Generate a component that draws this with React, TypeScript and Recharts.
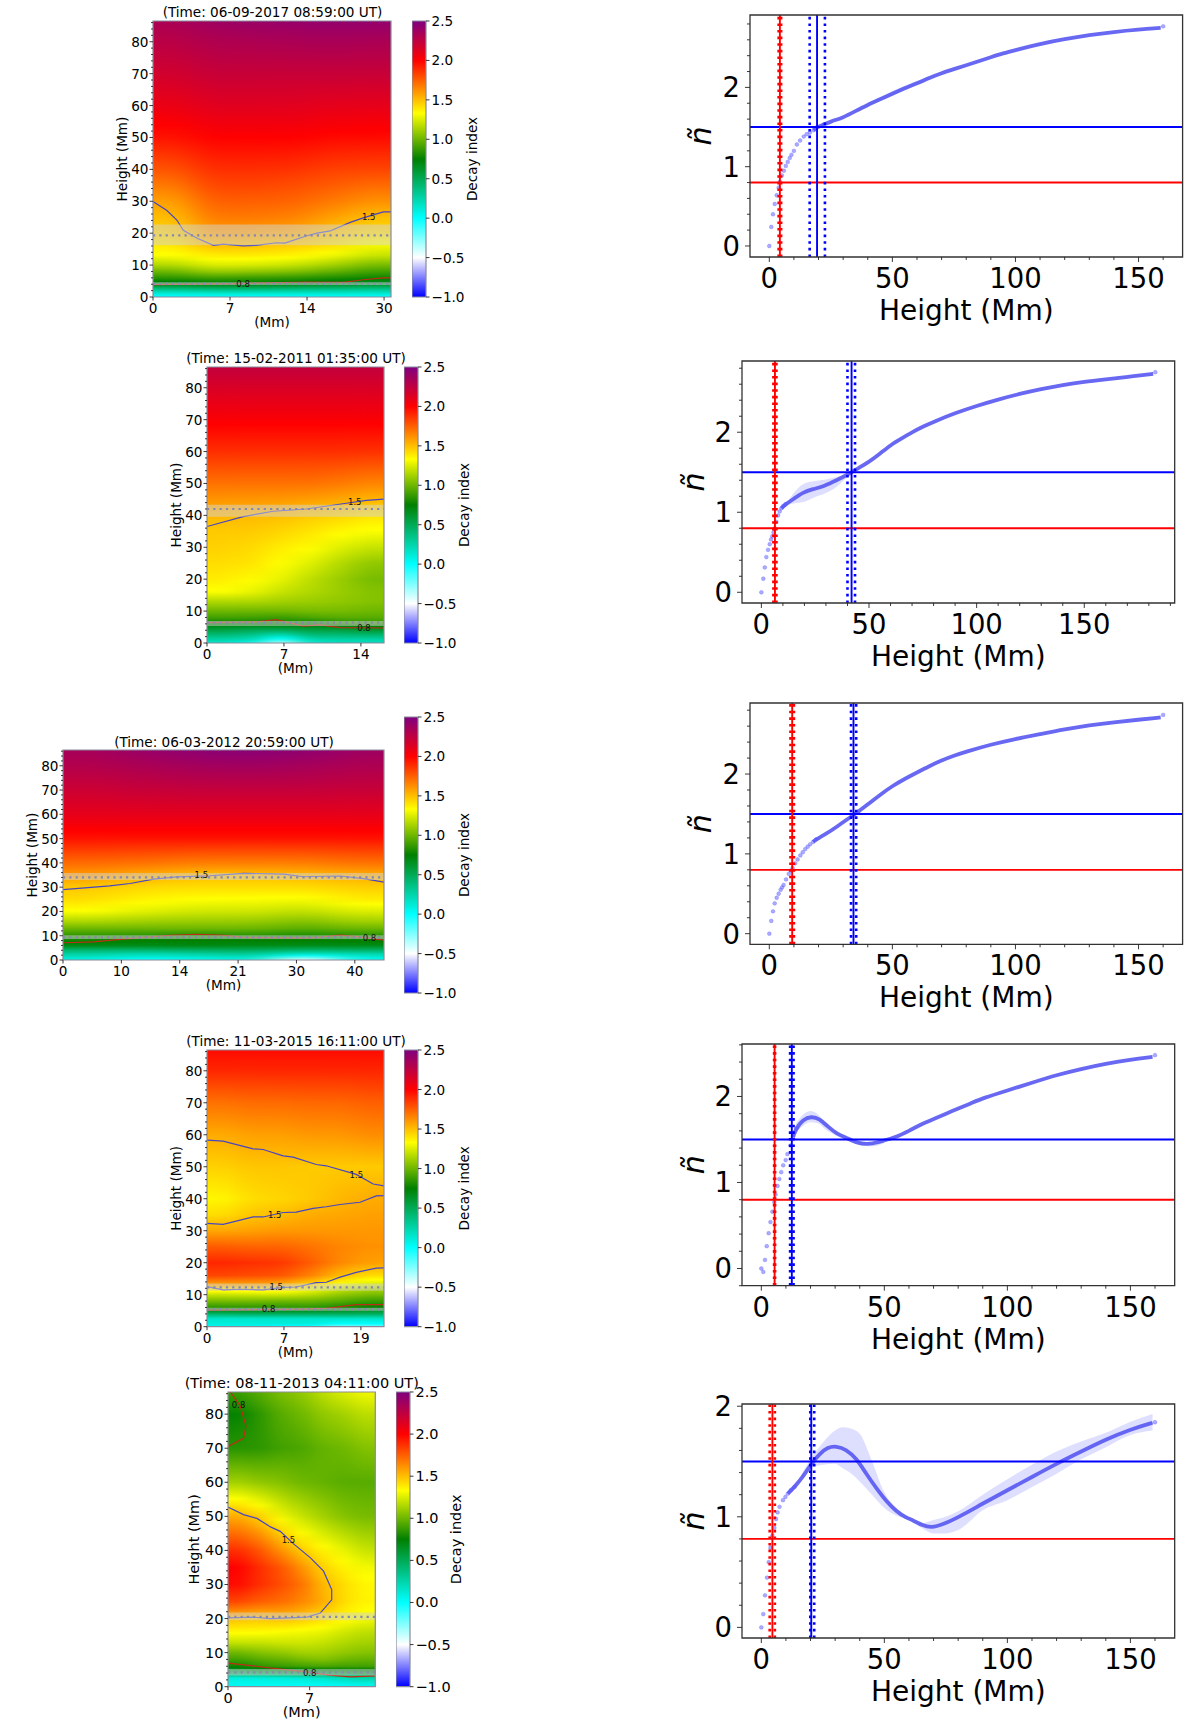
import React from 'react';
import {
  Area,
  Bar,
  ComposedChart,
  Label,
  Line,
  ReferenceArea,
  ReferenceDot,
  ReferenceLine,
  XAxis,
  YAxis,
} from 'recharts';

const FONT = '"DejaVu Sans", sans-serif';

// heights (Mm) at which the decay index map columns were read
const decayHeights = [0, 1, 2.5, 4, 6, 8, 10, 13, 16, 20, 25, 30, 35, 40, 50, 60, 70, 80, 86.5];

const map1Columns = [
  [0, 0.1, 0.36, 0.68, 0.85, 1.0, 1.15, 1.32, 1.38, 1.44, 1.5, 1.58, 1.68, 1.78, 1.95, 2.08, 2.18, 2.27, 2.33],
  [0, 0.12, 0.4, 0.72, 0.9, 1.1, 1.25, 1.38, 1.5, 1.6, 1.68, 1.75, 1.82, 1.88, 2.0, 2.12, 2.22, 2.31, 2.38],
  [0, 0.12, 0.4, 0.72, 0.88, 1.08, 1.24, 1.38, 1.48, 1.58, 1.68, 1.75, 1.82, 1.88, 2.0, 2.12, 2.22, 2.32, 2.4],
  [0, 0.12, 0.38, 0.7, 0.86, 1.05, 1.2, 1.36, 1.46, 1.56, 1.66, 1.74, 1.8, 1.87, 2.0, 2.12, 2.22, 2.33, 2.41],
  [0, 0.12, 0.36, 0.66, 0.82, 0.98, 1.12, 1.3, 1.4, 1.48, 1.58, 1.68, 1.76, 1.83, 1.98, 2.1, 2.22, 2.34, 2.42],
  [0, 0.12, 0.34, 0.62, 0.78, 0.9, 1.02, 1.2, 1.3, 1.42, 1.5, 1.62, 1.72, 1.82, 1.97, 2.1, 2.22, 2.33, 2.42],
];
const map2Columns = [
  [0.15, 0.25, 0.4, 0.55, 0.75, 0.9, 1.0, 1.15, 1.32, 1.38, 1.42, 1.45, 1.47, 1.52, 1.7, 1.88, 2.02, 2.15, 2.24],
  [0.05, 0.2, 0.35, 0.5, 0.75, 0.9, 1.0, 1.15, 1.28, 1.34, 1.4, 1.43, 1.47, 1.51, 1.7, 1.88, 2.02, 2.15, 2.24],
  [-0.4, -0.1, 0.2, 0.48, 0.78, 0.88, 1.0, 1.12, 1.2, 1.28, 1.33, 1.38, 1.44, 1.5, 1.7, 1.88, 2.02, 2.15, 2.24],
  [0.15, 0.22, 0.4, 0.55, 0.75, 0.92, 1.02, 1.1, 1.15, 1.18, 1.26, 1.34, 1.4, 1.47, 1.7, 1.88, 2.02, 2.15, 2.24],
  [0.2, 0.25, 0.4, 0.55, 0.82, 0.95, 1.02, 1.08, 1.1, 1.1, 1.16, 1.26, 1.35, 1.44, 1.68, 1.88, 2.02, 2.15, 2.24],
  [0.2, 0.25, 0.42, 0.6, 0.85, 0.95, 1.0, 1.05, 1.05, 1.02, 1.08, 1.2, 1.32, 1.4, 1.65, 1.87, 2.02, 2.15, 2.24],
];
const map3Columns = [
  [0.1, 0.15, 0.28, 0.42, 0.68, 0.78, 0.85, 1.0, 1.15, 1.32, 1.42, 1.48, 1.6, 1.72, 1.95, 2.1, 2.2, 2.3, 2.35],
  [-0.05, 0.08, 0.22, 0.42, 0.68, 0.75, 0.84, 1.0, 1.12, 1.26, 1.36, 1.43, 1.55, 1.7, 1.95, 2.1, 2.22, 2.33, 2.4],
  [0.05, 0.12, 0.28, 0.46, 0.7, 0.75, 0.82, 1.0, 1.1, 1.22, 1.33, 1.42, 1.5, 1.67, 1.95, 2.1, 2.23, 2.36, 2.45],
  [0.1, 0.18, 0.32, 0.48, 0.68, 0.75, 0.84, 1.0, 1.1, 1.22, 1.32, 1.42, 1.5, 1.67, 1.95, 2.1, 2.23, 2.37, 2.46],
  [-0.55, -0.25, 0.15, 0.42, 0.68, 0.75, 0.8, 0.95, 1.05, 1.18, 1.31, 1.42, 1.52, 1.67, 1.95, 2.1, 2.23, 2.35, 2.44],
  [0.05, 0.1, 0.24, 0.44, 0.68, 0.76, 0.84, 1.0, 1.12, 1.25, 1.38, 1.46, 1.55, 1.7, 1.95, 2.1, 2.22, 2.32, 2.38],
];
const map4Columns = [
  [0.05, 0.1, 0.15, 0.45, 0.85, 1.02, 1.2, 1.56, 1.82, 1.9, 1.76, 1.56, 1.42, 1.35, 1.45, 1.55, 1.7, 1.9, 1.97],
  [0.05, 0.1, 0.15, 0.48, 0.85, 1.02, 1.22, 1.56, 1.8, 1.88, 1.74, 1.58, 1.48, 1.42, 1.48, 1.58, 1.72, 1.9, 1.97],
  [0, 0.1, 0.15, 0.48, 0.85, 1.0, 1.22, 1.54, 1.78, 1.86, 1.74, 1.6, 1.5, 1.44, 1.48, 1.58, 1.72, 1.9, 1.97],
  [0, 0.1, 0.15, 0.48, 0.85, 1.0, 1.18, 1.42, 1.66, 1.76, 1.7, 1.6, 1.55, 1.47, 1.47, 1.6, 1.73, 1.9, 1.97],
  [-0.25, 0, 0.15, 0.48, 0.8, 0.95, 1.08, 1.3, 1.5, 1.64, 1.65, 1.6, 1.56, 1.52, 1.47, 1.6, 1.73, 1.9, 1.97],
  [-0.2, 0, 0.15, 0.48, 0.75, 0.88, 1.02, 1.22, 1.42, 1.58, 1.62, 1.6, 1.58, 1.55, 1.47, 1.63, 1.75, 1.9, 1.97],
];
const map5Columns = [
  [0.05, 0.05, 0.1, 0.48, 0.78, 0.9, 1.0, 1.2, 1.34, 1.5, 1.82, 1.97, 2.0, 1.88, 1.55, 1.12, 0.84, 0.76, 0.88],
  [0.02, 0.05, 0.1, 0.5, 0.85, 0.95, 1.05, 1.2, 1.34, 1.48, 1.75, 1.88, 1.88, 1.78, 1.45, 1.08, 0.85, 0.85, 0.95],
  [0.02, 0.05, 0.1, 0.52, 0.88, 0.98, 1.08, 1.22, 1.32, 1.5, 1.72, 1.8, 1.78, 1.62, 1.3, 1.05, 0.9, 0.95, 1.03],
  [0.02, 0.05, 0.12, 0.55, 0.9, 1.02, 1.12, 1.22, 1.3, 1.48, 1.65, 1.7, 1.62, 1.47, 1.2, 1.0, 0.92, 1.0, 1.08],
  [0.02, 0.06, 0.15, 0.58, 0.92, 1.05, 1.12, 1.2, 1.28, 1.42, 1.55, 1.52, 1.45, 1.36, 1.12, 0.98, 0.98, 1.08, 1.18],
  [0.02, 0.08, 0.2, 0.6, 0.9, 1.0, 1.08, 1.15, 1.22, 1.35, 1.42, 1.42, 1.36, 1.28, 1.05, 0.95, 1.0, 1.12, 1.25],
  [0.05, 0.1, 0.25, 0.62, 0.9, 0.98, 1.05, 1.12, 1.18, 1.3, 1.36, 1.35, 1.3, 1.2, 1.02, 0.95, 1.05, 1.18, 1.3],
];

// contour lines, x in units of the evenly spaced x ticks
const map1Contour15X = [0, 0.177, 0.307, 0.394, 0.567, 0.784, 0.913, 1.17, 1.34, 1.6, 1.71, 2.0, 2.13, 2.3, 2.56, 2.73, 2.99, 3.09];
const map1Contour15H = [29.9, 27.2, 24.2, 20.9, 18.5, 16.2, 16.6, 16, 16.2, 17, 16.9, 19.2, 20, 20.7, 23.4, 24.8, 26.7, 26.7];
const map1Contour08X = [0, 1.04, 2.0, 2.47, 2.73, 2.99, 3.09];
const map1Contour08H = [3.9, 4.2, 4.7, 4.6, 5.4, 6, 6];

const map2Contour15X = [0, 0.47, 0.86, 1.29, 1.81, 2.07, 2.3];
const map2Contour15H = [36.5, 39.6, 41.3, 42, 43.8, 44.7, 45.1];
const map2Contour08X = [0, 0.645, 0.9, 1.25, 1.47, 1.73, 2.3];
const map2Contour08H = [6.4, 6.6, 7.3, 5.3, 5.7, 4.8, 4.7];

const map3Contour15X = [0, 0.8, 1.15, 1.55, 1.95, 2.52, 3.09, 3.78, 4.12, 4.75, 5.15, 5.5];
const map3Contour15H = [29, 30.5, 31.5, 33.3, 34.2, 34.7, 35.7, 35.4, 34.3, 34.6, 33.5, 32.1];
const map3Contour08X = [0, 0.52, 0.98, 1.83, 2.29, 2.75, 3.09, 4.25, 4.75, 5.03, 5.5];
const map3Contour08H = [7.1, 7.5, 8.5, 10.2, 10.6, 10.2, 9.3, 9, 10.3, 9.6, 8.2];

const map4ContourTopX = [0, 0.21, 0.6, 0.73, 0.99, 1.12, 1.42, 1.55, 1.94, 2.16, 2.3];
const map4ContourTopH = [58.3, 58, 55.6, 55.4, 53.4, 53, 50.7, 50.3, 47.6, 44.6, 44];
const map4ContourMidX = [0, 0.21, 0.6, 0.73, 0.99, 1.16, 1.38, 1.55, 1.73, 1.99, 2.2, 2.3];
const map4ContourMidH = [32.3, 32, 34.3, 34.3, 35.7, 35.8, 37, 37.5, 38.2, 38.9, 40.9, 41];
const map4ContourLowX = [0, 0.21, 0.43, 0.73, 0.99, 1.16, 1.42, 1.55, 1.73, 1.94, 2.2, 2.3];
const map4ContourLowH = [12.5, 11.5, 11.7, 11.5, 12.3, 12.4, 13.8, 13.9, 15.5, 17, 18.3, 18.4];
const map4Contour08X = [0, 1.12, 1.55, 1.94, 2.3];
const map4Contour08H = [5.2, 5.4, 5.7, 6.9, 6.9];

const map5Contour15X = [0, 0.19, 0.355, 0.52, 0.64, 0.8, 1.01, 1.17, 1.27, 1.27, 1.13, 0.97, 0.52, 0.31, 0];
const map5Contour15H = [52.7, 50.5, 49.4, 46.9, 45.6, 42, 37.8, 33.9, 28.5, 25.5, 21.6, 20.4, 20, 20.4, 20.2];
const map5ContourUpX = [0.03, 0.15, 0.22, 0.19, 0];
const map5ContourUpH = [86.5, 82.4, 76.5, 72.9, 70.5];
const map5Contour08X = [0, 0.31, 0.56, 0.93, 1.25, 1.5, 1.8];
const map5Contour08H = [6.9, 6.1, 5.4, 4.4, 3.4, 2.9, 3.2];

const mapTitles = [
  '(Time: 06-09-2017 08:59:00 UT)',
  '(Time: 15-02-2011 01:35:00 UT)',
  '(Time: 06-03-2012 20:59:00 UT)',
  '(Time: 11-03-2015 16:11:00 UT)',
  '(Time: 08-11-2013 04:11:00 UT)',
];
const mapXLabels = [
  ['0', '7', '14', '30'],
  ['0', '7', '14'],
  ['0', '10', '14', '21', '30', '40'],
  ['0', '7', '19'],
  ['0', '7'],
];
const mapXMax = [3.09, 2.3, 5.5, 2.3, 1.804];
const mapColumns = [map1Columns, map2Columns, map3Columns, map4Columns, map5Columns];

// [height, band low, band high]
const mapHeights = [
  [[19.3, 16.2, 22.7], [4.2, 3.8, 4.6]],
  [[42, 39.6, 43.3], [6.4, 5.3, 6.9]],
  [[34, 33, 35.8], [9.3, 8.7, 10.2]],
  [[12.3, 11.2, 13.5], [5.4, 5, 5.9]],
  [[20.5, 19.5, 21.8], [4.2, 3.3, 5.2]],
];

const contourBlue = '#4646c4';
const contourRed = '#c02c18';
const mapContours = [
  [
    { xs: map1Contour15X, hs: map1Contour15H, stroke: contourBlue },
    { xs: map1Contour08X, hs: map1Contour08H, stroke: contourRed },
  ],
  [
    { xs: map2Contour15X, hs: map2Contour15H, stroke: contourBlue },
    { xs: map2Contour08X, hs: map2Contour08H, stroke: contourRed },
  ],
  [
    { xs: map3Contour15X, hs: map3Contour15H, stroke: contourBlue },
    { xs: map3Contour08X, hs: map3Contour08H, stroke: contourRed },
  ],
  [
    { xs: map4ContourTopX, hs: map4ContourTopH, stroke: contourBlue },
    { xs: map4ContourMidX, hs: map4ContourMidH, stroke: contourBlue },
    { xs: map4ContourLowX, hs: map4ContourLowH, stroke: contourBlue },
    { xs: map4Contour08X, hs: map4Contour08H, stroke: contourRed },
  ],
  [
    { xs: map5Contour15X, hs: map5Contour15H, stroke: contourBlue },
    { xs: map5ContourUpX, hs: map5ContourUpH, stroke: contourRed },
    { xs: map5Contour08X, hs: map5Contour08H, stroke: contourRed },
  ],
];
// contour level labels: [x, height, text]
const mapContourLabels: [number, number, string][][] = [
  [[2.8, 25, '1.5'], [1.17, 4.2, '0.8']],
  [[1.92, 44.3, '1.5'], [2.04, 4.8, '0.8']],
  [[2.37, 35, '1.5'], [5.25, 9, '0.8']],
  [[1.94, 47.3, '1.5'], [0.88, 35, '1.5'], [0.9, 12.3, '1.5'], [0.8, 5.5, '0.8']],
  [[0.74, 43, '1.5'], [0.13, 82.6, '0.8'], [1, 4, '0.8']],
];

const mapLayout = [
  { left: 153, top: 21, w: 238, h: 276, barLeft: 412, barTop: 21, barH: 276, titleX: 272.5, titleY: 17, font: 13.6 },
  { left: 207, top: 366.7, w: 177, h: 276, barLeft: 404, barTop: 366.7, barH: 276, titleX: 296, titleY: 363, font: 13.6 },
  { left: 63, top: 750, w: 321, h: 210, barLeft: 404, barTop: 717, barH: 276, titleX: 224, titleY: 746.5, font: 13.6 },
  { left: 207, top: 1050, w: 177, h: 276.7, barLeft: 404, barTop: 1050, barH: 276.7, titleX: 296, titleY: 1046.5, font: 13.6 },
  { left: 227.7, top: 1392, w: 147.3, h: 294.7, barLeft: 396, barTop: 1392, barH: 294.7, titleX: 301.5, titleY: 1388, font: 14.5 },
];

const mapHeightTicks = [
  0, 2, 4, 6, 8, 10, 12, 14, 16, 18, 20, 22, 24, 26, 28, 30, 32, 34, 36, 38, 40, 42, 44, 46, 48, 50, 52, 54, 56, 58,
  60, 62, 64, 66, 68, 70, 72, 74, 76, 78, 80, 82, 84, 86,
];
const colorbarTicks = [-1, -0.5, 0, 0.5, 1, 1.5, 2, 2.5];

// colour table of the map
const cmapValues = [-1, -0.5, 0, 0.75, 1.33, 2, 2.5];
const cmapColors = [
  [0, 0, 255],
  [255, 255, 255],
  [0, 255, 255],
  [0, 128, 0],
  [255, 255, 0],
  [255, 0, 0],
  [128, 0, 128],
];

// decay index profiles against height: markers, thick curve, spread band
const curve1MarkerH = [0, 0.8, 1.5, 2.2, 3, 3.8, 4.3, 5.1, 5.9, 6.7, 7.5, 8.3, 9, 10, 11.2, 12.5, 14, 15.2, 16.5, 18, 19.5, 22, 160];
const curve1MarkerN = [0, 0.24, 0.4, 0.53, 0.64, 0.735, 0.81, 0.89, 0.95, 1.01, 1.06, 1.11, 1.15, 1.2, 1.28, 1.33, 1.38, 1.41, 1.43, 1.46, 1.5, 1.53, 2.77];
const curve1LineH = [18, 19.5, 22, 25, 30, 35, 40, 45, 50, 55, 60, 65, 70, 75, 80, 85, 90, 95, 100, 110, 120, 130, 140, 150, 159];
const curve1LineN = [1.46, 1.5, 1.53, 1.57, 1.62, 1.7, 1.78, 1.85, 1.92, 1.99, 2.05, 2.12, 2.18, 2.23, 2.28, 2.33, 2.38, 2.43, 2.47, 2.55, 2.61, 2.66, 2.7, 2.73, 2.75];
const curve1BandH = [35, 45, 55, 65];
const curve1BandLo = [1.69, 1.83, 1.96, 2.1];
const curve1BandHi = [1.72, 1.88, 2.02, 2.14];

const curve2MarkerH = [0, 0.9, 1.6, 2.3, 3.1, 3.9, 4.5, 5.1, 5.7, 6.2, 7, 7.75, 8.5, 9.3, 10.2, 11.2, 183];
const curve2MarkerN = [0, 0.17, 0.31, 0.44, 0.53, 0.6, 0.66, 0.7, 0.75, 0.8, 0.88, 0.96, 1.01, 1.05, 1.08, 1.1, 2.75];
const curve2LineH = [9.3, 11.2, 14.7, 19.4, 24, 28.7, 33.3, 38, 41.9, 45, 50, 55, 60, 65, 70, 75, 80, 90, 100, 110, 120, 130, 140, 150, 160, 170, 182];
const curve2LineN = [1.05, 1.1, 1.16, 1.25, 1.29, 1.32, 1.38, 1.44, 1.5, 1.55, 1.63, 1.73, 1.84, 1.92, 2.0, 2.07, 2.13, 2.24, 2.33, 2.41, 2.48, 2.54, 2.59, 2.63, 2.66, 2.69, 2.73];
const curve2BandH = [12, 15, 20, 25, 30, 35, 40, 42];
const curve2BandLo = [1.09, 1.11, 1.13, 1.19, 1.24, 1.32, 1.44, 1.49];
const curve2BandHi = [1.12, 1.24, 1.36, 1.39, 1.41, 1.44, 1.48, 1.51];

const curve3MarkerH = [0, 0.8, 1.5, 2.2, 3, 3.8, 4.6, 5.2, 5.8, 6.8, 7.9, 8.7, 9.5, 10.5, 11.5, 12.6, 13.6, 14.6, 15.6, 16.6, 17.8, 19, 160];
const curve3MarkerN = [0, 0.16, 0.28, 0.38, 0.45, 0.5, 0.55, 0.58, 0.61, 0.68, 0.75, 0.79, 0.82, 0.88, 0.93, 0.98, 1.02, 1.06, 1.09, 1.12, 1.15, 1.18, 2.74];
const curve3LineH = [17.8, 19, 22, 27.5, 34.2, 36.3, 40, 45, 50, 55, 60, 65, 70, 75, 80, 90, 100, 110, 120, 130, 140, 150, 159];
const curve3LineN = [1.15, 1.18, 1.23, 1.34, 1.49, 1.53, 1.62, 1.74, 1.85, 1.94, 2.02, 2.1, 2.17, 2.23, 2.28, 2.37, 2.44, 2.5, 2.56, 2.61, 2.65, 2.68, 2.71];
const curve3BandH: number[] = [];
const curve3BandLo: number[] = [];
const curve3BandHi: number[] = [];

const curve4MarkerH = [0, 0.8, 1.5, 2.2, 3, 3.7, 4.5, 5.3, 5.8, 6.6, 7.3, 8.1, 8.9, 9.9, 10.6, 11.9, 12.9, 14.2, 160];
const curve4MarkerN = [0, -0.04, 0.1, 0.26, 0.41, 0.54, 0.66, 0.77, 0.86, 0.96, 1.04, 1.12, 1.2, 1.26, 1.33, 1.43, 1.53, 1.63, 2.48];
const curve4LineH = [12.9, 14.2, 16.9, 20.3, 23.7, 27, 30.5, 34.5, 38.6, 44, 50, 55, 60, 66, 75, 86, 90, 100, 110, 120, 130, 140, 150, 159];
const curve4LineN = [1.53, 1.63, 1.73, 1.77, 1.74, 1.65, 1.57, 1.52, 1.46, 1.44, 1.49, 1.53, 1.6, 1.69, 1.8, 1.93, 1.98, 2.07, 2.16, 2.25, 2.32, 2.38, 2.43, 2.46];
const curve4BandH = [14, 17, 20, 23, 26, 30, 35, 40, 45, 50];
const curve4BandLo = [1.57, 1.66, 1.7, 1.69, 1.62, 1.55, 1.5, 1.44, 1.42, 1.46];
const curve4BandHi = [1.68, 1.79, 1.83, 1.79, 1.7, 1.59, 1.54, 1.48, 1.46, 1.5];

const curve5MarkerH = [0, 0.8, 1.5, 2.3, 3, 3.7, 4.5, 5.3, 6, 6.6, 7.4, 8.8, 9.8, 10.8, 12, 13.5, 160];
const curve5MarkerN = [0, 0.12, 0.29, 0.45, 0.59, 0.72, 0.83, 0.9, 0.98, 1.04, 1.09, 1.15, 1.18, 1.21, 1.24, 1.27, 1.855];
const curve5LineH = [10.8, 13.5, 16.9, 20.3, 23.7, 27, 30.5, 34.5, 38.6, 42.6, 46.7, 50.8, 54.8, 58.9, 61.6, 65.7, 69, 73.8, 80.5, 90, 100, 110, 120, 130, 140, 150, 159];
const curve5LineN = [1.21, 1.27, 1.36, 1.48, 1.57, 1.63, 1.64, 1.61, 1.53, 1.39, 1.26, 1.14, 1.05, 0.99, 0.97, 0.92, 0.9, 0.93, 1.0, 1.12, 1.24, 1.36, 1.48, 1.59, 1.7, 1.79, 1.85];
const curve5BandH = [16, 20, 25, 30, 33, 36, 40, 45, 50, 55, 60, 65, 70, 75, 80, 90, 100, 110, 120, 130, 140, 150, 159];
const curve5BandLo = [1.35, 1.44, 1.47, 1.48, 1.44, 1.4, 1.32, 1.2, 1.08, 1.01, 0.97, 0.9, 0.85, 0.85, 0.88, 1.06, 1.15, 1.27, 1.39, 1.52, 1.63, 1.74, 1.78];
const curve5BandHi = [1.37, 1.52, 1.67, 1.78, 1.81, 1.8, 1.75, 1.5, 1.22, 1.08, 1.0, 0.94, 0.97, 1.0, 1.05, 1.2, 1.34, 1.47, 1.59, 1.68, 1.76, 1.86, 1.93];

const curveSets = [
  { mh: curve1MarkerH, mn: curve1MarkerN, lh: curve1LineH, ln: curve1LineN, bh: curve1BandH, lo: curve1BandLo, hi: curve1BandHi },
  { mh: curve2MarkerH, mn: curve2MarkerN, lh: curve2LineH, ln: curve2LineN, bh: curve2BandH, lo: curve2BandLo, hi: curve2BandHi },
  { mh: curve3MarkerH, mn: curve3MarkerN, lh: curve3LineH, ln: curve3LineN, bh: curve3BandH, lo: curve3BandLo, hi: curve3BandHi },
  { mh: curve4MarkerH, mn: curve4MarkerN, lh: curve4LineH, ln: curve4LineN, bh: curve4BandH, lo: curve4BandLo, hi: curve4BandHi },
  { mh: curve5MarkerH, mn: curve5MarkerN, lh: curve5LineH, ln: curve5LineN, bh: curve5BandH, lo: curve5BandLo, hi: curve5BandHi },
];

// critical heights: red and blue, each with solid value and dotted limits
const redHeights = [[4.3, 3.8, 4.8], [6.3, 5.6, 7], [9.3, 8.6, 10], [5.4, 5.2, 5.6], [4.5, 3.4, 5.5]];
const blueHeights = [[19.4, 16.4, 22.6], [41.9, 40, 43.5], [34.2, 33.2, 35.3], [12.4, 11.7, 13.1], [20.3, 19.9, 21.5]];

const heightTicks160 = [0, 10, 20, 30, 40, 50, 60, 70, 80, 90, 100, 110, 120, 130, 140, 150, 160];
const heightTicks190 = [0, 10, 20, 30, 40, 50, 60, 70, 80, 90, 100, 110, 120, 130, 140, 150, 160, 170, 180, 190];
const nTicks28 = [0, 0.2, 0.4, 0.6, 0.8, 1, 1.2, 1.4, 1.6, 1.8, 2, 2.2, 2.4, 2.6, 2.8];
const nTicks26 = [-0.2, 0, 0.2, 0.4, 0.6, 0.8, 1, 1.2, 1.4, 1.6, 1.8, 2, 2.2, 2.4, 2.6];
const nTicks20 = [0, 0.2, 0.4, 0.6, 0.8, 1, 1.2, 1.4, 1.6, 1.8, 2];

const curveLayout = [
  { left: 749.7, top: 15, w: 432.6, h: 242, xDomain: [-7.84, 167.9], yDomain: [-0.139, 2.913], xTicks: heightTicks160, yTicks: nTicks28, nGap: 50 },
  { left: 742.3, top: 360.7, w: 432.7, h: 242, xDomain: [-9, 192], yDomain: [-0.134, 2.89], xTicks: heightTicks190, yTicks: nTicks28, nGap: 49 },
  { left: 749.7, top: 703, w: 432.6, h: 241.3, xDomain: [-7.84, 167.9], yDomain: [-0.133, 2.89], xTicks: heightTicks160, yTicks: nTicks28, nGap: 50 },
  { left: 742.3, top: 1044.3, w: 432.7, h: 241.7, xDomain: [-7.85, 168], yDomain: [-0.2, 2.61], xTicks: heightTicks160, yTicks: nTicks26, nGap: 49 },
  { left: 742.3, top: 1404.3, w: 432.7, h: 234, xDomain: [-7.85, 168], yDomain: [-0.096, 2.02], xTicks: heightTicks160, yTicks: nTicks20, nGap: 49 },
];

function colorOf(v: number) {
  let i = 0;
  while (i < cmapValues.length - 2 && v > cmapValues[i + 1]) i++;
  const t = Math.max(0, Math.min(1, (v - cmapValues[i]) / (cmapValues[i + 1] - cmapValues[i])));
  const c = cmapColors[i].map((a, k) => Math.round(a + (cmapColors[i + 1][k] - a) * t));
  return `rgb(${c[0]},${c[1]},${c[2]})`;
}

// gradient stops for one column, with extra stops where the colour table bends
function columnStops(values: number[], domainTop: number) {
  const stops: { offset: number; color: string }[] = [];
  for (let i = decayHeights.length - 1; i >= 0; i--) {
    const h = decayHeights[i];
    stops.push({ offset: 1 - h / domainTop, color: colorOf(values[i]) });
    if (i > 0) {
      const a = values[i];
      const b = values[i - 1];
      const bends = cmapValues.filter((c) => c > Math.min(a, b) && c < Math.max(a, b));
      if (a > b) bends.reverse();
      bends.forEach((c) => {
        const hb = h + ((c - a) / (b - a)) * (decayHeights[i - 1] - h);
        stops.push({ offset: 1 - hb / domainTop, color: colorOf(c) });
      });
    }
  }
  return stops;
}

function AxisTick(props: any) {
  const { x, y, payload, side, label, len, minorLen, fontSize, gap, baseShift } = props;
  const text = label(payload.value);
  const l = text != null ? len : minorLen;
  if (side === 'bottom') {
    return (
      <g>
        <line x1={x} x2={x} y1={y} y2={y + l} stroke="#222" strokeWidth={0.9} />
        {text != null && (
          <text x={x} y={y + baseShift} textAnchor="middle" fontSize={fontSize} fontFamily={FONT} fill="#000">
            {text}
          </text>
        )}
      </g>
    );
  }
  if (side === 'right') {
    return (
      <g>
        <line x1={x} x2={x + l} y1={y} y2={y} stroke="#222" strokeWidth={0.9} />
        <text x={x + gap} y={y + baseShift} textAnchor="start" fontSize={fontSize} fontFamily={FONT} fill="#000">
          {text}
        </text>
      </g>
    );
  }
  return (
    <g>
      <line x1={x} x2={x - l} y1={y} y2={y} stroke="#222" strokeWidth={0.9} />
      {text != null && (
        <text x={x - gap} y={y + baseShift} textAnchor="end" fontSize={fontSize} fontFamily={FONT} fill="#000">
          {text}
        </text>
      )}
    </g>
  );
}

function DecayMap({ index }: { index: number }) {
  const pos = mapLayout[index];
  const columns = mapColumns[index];
  const xMax = mapXMax[index];
  const domainTop = 86.5;
  const leftGap = index === 4 ? 68 : 62;
  const topGap = 20;
  const rightGap = 90;
  const colW = pos.w / columns.length;
  const rows = columns.map((_, i) => ({ x: ((i + 0.5) * xMax) / columns.length, top: domainTop }));
  const xTicks = mapXLabels[index].map((_, i) => i);
  const id = `map${index}`;
  const lastCol = columns.length - 1;

  const drawCell = (p: any) => {
    const first = p.index === 0;
    const last = p.index === lastCol;
    const center = p.x + p.width / 2;
    const x = center - colW / 2 - (first ? 60 : 0);
    const width = colW + (first ? 60 : 0) + (last ? 85 : 0) + 0.5;
    return <rect x={x} y={p.y} width={width} height={p.height} fill={`url(#${id}-col${p.index})`} />;
  };

  return (
    <div style={{ position: 'absolute', left: pos.left - leftGap, top: pos.top - topGap }}>
      <style>{`.${id}-heat{filter:url(#${id}-blur);clip-path:url(#${id}-clip)}`}</style>
      <ComposedChart
        width={pos.w + leftGap + rightGap}
        height={pos.h + topGap + 50}
        data={rows}
        margin={{ top: topGap, right: rightGap, bottom: 0, left: 0 }}
      >
        <defs>
          {columns.map((values, c) => (
            <linearGradient key={c} id={`${id}-col${c}`} x1="0" y1="0" x2="0" y2="1">
              {columnStops(values, domainTop).map((s, k) => (
                <stop key={k} offset={s.offset} stopColor={s.color} />
              ))}
            </linearGradient>
          ))}
          <filter
            id={`${id}-blur`}
            filterUnits="userSpaceOnUse"
            x={-100}
            y={0}
            width={pos.w + leftGap + rightGap + 200}
            height={pos.h + topGap + 50}
            colorInterpolationFilters="sRGB"
          >
            <feGaussianBlur stdDeviation={`${colW * 0.42} 0`} />
          </filter>
          <clipPath id={`${id}-clip`}>
            <rect x={leftGap} y={topGap} width={pos.w} height={pos.h} />
          </clipPath>
        </defs>
        <XAxis
          type="number"
          dataKey="x"
          domain={[0, xMax]}
          ticks={xTicks}
          interval={0}
          allowDataOverflow
          height={50}
          axisLine={false}
          tickLine={false}
          tick={(p: any) => (
            <AxisTick
              {...p}
              y={pos.h + topGap}
              side="bottom"
              label={(v: number) => mapXLabels[index][v]}
              len={3.5}
              minorLen={2}
              fontSize={pos.font}
              baseShift={16}
            />
          )}
        >
          <Label value="(Mm)" position="center" fontSize={pos.font} fill="#000" fontFamily={FONT} />
        </XAxis>
        <YAxis
          type="number"
          domain={[0, domainTop]}
          ticks={mapHeightTicks}
          interval={0}
          allowDataOverflow
          width={leftGap}
          axisLine={false}
          tickLine={false}
          tick={(p: any) => (
            <AxisTick
              {...p}
              x={leftGap}
              side="left"
              label={(v: number) => (v % 10 === 0 ? String(v) : null)}
              len={3.5}
              minorLen={2}
              gap={4.5}
              fontSize={pos.font}
              baseShift={5}
            />
          )}
        >
          <Label value="Height (Mm)" angle={-90} position="center" fontSize={pos.font} fill="#000" fontFamily={FONT} />
        </YAxis>
        {/* solid backing under the blurred cells, which can thin out near the edges */}
        {columns.map((_, c) => (
          <ReferenceArea
            key={`back${c}`}
            x1={(xMax * c) / columns.length}
            x2={(xMax * (c + 1)) / columns.length}
            y1={0}
            y2={domainTop}
            fill={`url(#${id}-col${c})`}
            fillOpacity={1}
            stroke="none"
            zIndex={50}
          />
        ))}
        <Bar dataKey="top" barSize={colW} className={`${id}-heat`} shape={drawCell} isAnimationActive={false} />
        {mapHeights[index].map(([h, lo, hi], k) => (
          <ReferenceArea key={`b${k}`} y1={lo} y2={hi} fill="#d3d3d3" fillOpacity={0.5} stroke="none" zIndex={650} />
        ))}
        {mapContours[index].map((c, k) => (
          <Line
            key={`c${k}`}
            data={c.xs.map((x, i) => ({ x, h: c.hs[i] }))}
            dataKey="h"
            type="linear"
            stroke={c.stroke}
            strokeWidth={1.2}
            dot={false}
            legendType="none"
            isAnimationActive={false}
          />
        ))}
        {mapHeights[index].map(([h], k) => (
          <ReferenceLine key={`d${k}`} y={h} stroke="#8888aa" strokeWidth={2.2} strokeDasharray="2.2 4.1" zIndex={700} />
        ))}
        {mapContourLabels[index].map(([x, h, t], k) => (
          <ReferenceDot
            key={`l${k}`}
            x={x}
            y={h}
            r={0}
            stroke="none"
            zIndex={750}
            label={{ value: t, position: 'center', fontSize: 8.5, fill: '#111', fontFamily: FONT }}
          />
        ))}
        <ReferenceArea x1={0} x2={xMax} y1={0} y2={domainTop} fill="none" stroke="#8a8a9a" strokeWidth={1.2} zIndex={800} />
        <text x={pos.titleX - pos.left + leftGap} y={pos.titleY - pos.top + topGap} textAnchor="middle" fontSize={pos.font} fontFamily={FONT} fill="#000">
          {mapTitles[index]}
        </text>
      </ComposedChart>
    </div>
  );
}

function Colorbar({ index }: { index: number }) {
  const pos = mapLayout[index];
  const id = `cbar${index}`;
  const stops = cmapValues.map((v, i) => ({
    offset: (2.5 - v) / 3.5,
    color: `rgb(${cmapColors[i].join(',')})`,
  }));
  return (
    <div style={{ position: 'absolute', left: pos.barLeft, top: pos.barTop - 10 }}>
      <ComposedChart
        width={14 + 92}
        height={pos.barH + 20}
        data={[{ name: 'bar', range: [-1, 2.5] }]}
        margin={{ top: 10, right: 0, bottom: 10, left: 0 }}
        barCategoryGap={0}
      >
        <defs>
          <linearGradient id={id} x1="0" y1="0" x2="0" y2="1">
            {stops.slice().reverse().map((s, k) => (
              <stop key={k} offset={s.offset} stopColor={s.color} />
            ))}
          </linearGradient>
        </defs>
        <XAxis dataKey="name" hide height={0} />
        <YAxis
          orientation="right"
          type="number"
          domain={[-1, 2.5]}
          ticks={colorbarTicks}
          interval={0}
          width={92}
          axisLine={false}
          tickLine={false}
          tick={(p: any) => (
            <AxisTick
              {...p}
              x={14}
              side="right"
              label={(v: number) => (v < 0 ? `\u2212${Math.abs(v).toFixed(1)}` : v.toFixed(1))}
              len={3.5}
              minorLen={3.5}
              gap={5.5}
              fontSize={pos.font}
              baseShift={5}
            />
          )}
        >
          <Label value="Decay index" angle={-90} position="center" fontSize={pos.font} fill="#000" fontFamily={FONT} />
        </YAxis>
        <Bar dataKey="range" fill={`url(#${id})`} stroke="#8a8a9a" strokeWidth={1.2} isAnimationActive={false} />
      </ComposedChart>
    </div>
  );
}

function ProfileChart({ index }: { index: number }) {
  const pos = curveLayout[index];
  const set = curveSets[index];
  const leftGap = pos.nGap * 2;
  const topPad = 14;
  const bottomGap = 106;
  const red = redHeights[index];
  const blue = blueHeights[index];
  const markers = set.mh.map((h, i) => ({ h, n: set.mn[i] }));
  const thick = set.lh.map((h, i) => ({ h, n: set.ln[i] }));
  const band = set.bh.map((h, i) => ({ h, range: [set.lo[i], set.hi[i]] }));

  return (
    <div style={{ position: 'absolute', left: pos.left - leftGap, top: pos.top - topPad }}>
      <ComposedChart
        width={pos.w + leftGap + 6}
        height={pos.h + topPad + bottomGap}
        margin={{ top: topPad, right: 6, bottom: 0, left: 0 }}
      >
        <XAxis
          type="number"
          dataKey="h"
          domain={pos.xDomain}
          ticks={pos.xTicks}
          interval={0}
          allowDataOverflow
          height={bottomGap}
          axisLine={false}
          tickLine={false}
          tick={(p: any) => (
            <AxisTick
              {...p}
              y={pos.h + topPad}
              side="bottom"
              label={(v: number) => (v % 50 === 0 ? String(v) : null)}
              len={5}
              minorLen={3}
              fontSize={27.5}
              baseShift={31}
            />
          )}
        >
          <Label value="Height (Mm)" position="center" fontSize={28} fill="#000" fontFamily={FONT} />
        </XAxis>
        <YAxis
          type="number"
          domain={pos.yDomain}
          ticks={pos.yTicks}
          interval={0}
          allowDataOverflow
          width={leftGap}
          axisLine={false}
          tickLine={false}
          tick={(p: any) => (
            <AxisTick
              {...p}
              x={leftGap}
              side="left"
              label={(v: number) => (Number.isInteger(v) ? String(v) : null)}
              len={5}
              minorLen={3}
              gap={10}
              fontSize={27.5}
              baseShift={10}
            />
          )}
        >
          <Label value={'\u00f1'} angle={-90} position="center" fontSize={30} fontStyle="italic" fill="#000" fontFamily={FONT} />
        </YAxis>
        {band.length > 0 && (
          <Area
            data={band}
            dataKey="range"
            type="monotoneX"
            stroke="none"
            fill="#6a6aff"
            fillOpacity={0.22}
            dot={false}
            isAnimationActive={false}
          />
        )}
        <Line
          data={thick}
          dataKey="n"
          type="basis"
          stroke="#5858f2"
          strokeWidth={3.8}
          strokeOpacity={0.9}
          dot={false}
          isAnimationActive={false}
        />
        <Line
          data={markers}
          dataKey="n"
          stroke="none"
          dot={{ r: 1.9, fill: '#5a5aff', fillOpacity: 0.5, stroke: '#5a5aff', strokeOpacity: 0.6, strokeWidth: 0.5 }}
          isAnimationActive={false}
        />
        <ReferenceLine y={1.5} stroke="#0000ff" strokeWidth={1.9} zIndex={700} />
        <ReferenceLine y={0.8} stroke="#ff0000" strokeWidth={1.9} zIndex={700} />
        <ReferenceLine x={red[0]} stroke="#ff0000" strokeWidth={1.9} zIndex={700} />
        <ReferenceLine x={red[1]} stroke="#ff0000" strokeWidth={2.6} strokeDasharray="2.6 4" zIndex={700} />
        <ReferenceLine x={red[2]} stroke="#ff0000" strokeWidth={2.6} strokeDasharray="2.6 4" zIndex={700} />
        <ReferenceLine x={blue[0]} stroke="#0000ff" strokeWidth={1.9} zIndex={700} />
        <ReferenceLine x={blue[1]} stroke="#0000ff" strokeWidth={2.6} strokeDasharray="2.6 4" zIndex={700} />
        <ReferenceLine x={blue[2]} stroke="#0000ff" strokeWidth={2.6} strokeDasharray="2.6 4" zIndex={700} />
        <ReferenceArea
          x1={pos.xDomain[0]}
          x2={pos.xDomain[1]}
          y1={pos.yDomain[0]}
          y2={pos.yDomain[1]}
          fill="none"
          stroke="#333"
          strokeWidth={1.3}
          zIndex={800}
        />
      </ComposedChart>
    </div>
  );
}

export default function App() {
  return (
    <div style={{ position: 'absolute', left: 0, top: 0, width: 1200, height: 1728, background: '#fff', fontFamily: FONT, overflow: 'hidden' }}>
      {mapLayout.map((_, i) => (
        <React.Fragment key={i}>
          <DecayMap index={i} />
          <Colorbar index={i} />
          <ProfileChart index={i} />
        </React.Fragment>
      ))}
    </div>
  );
}
